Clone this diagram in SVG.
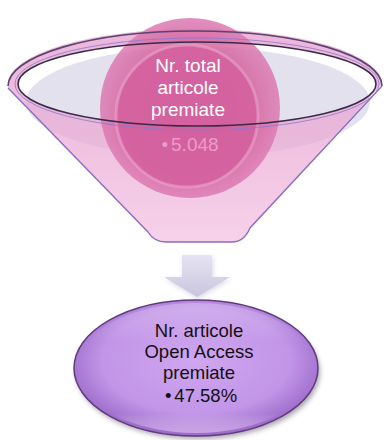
<svg xmlns="http://www.w3.org/2000/svg" width="384" height="440" viewBox="0 0 384 440">
  <style>
    .t { font-family: "Liberation Sans", Arial, sans-serif; text-anchor: middle; }
    .top { font-size: 19px; fill: #ffffff; }
    .topv { font-size: 19px; fill: #ec9ccb; }
    .bot { font-size: 18.5px; fill: #141014; }
  </style>
  <defs>
    <linearGradient id="face" x1="0" y1="0" x2="0" y2="1">
      <stop offset="0" stop-color="#e49acb"/>
      <stop offset="0.5" stop-color="#eaa8d3"/>
      <stop offset="1" stop-color="#f2c0e2"/>
    </linearGradient>
    <radialGradient id="ball" cx="0.5" cy="0.5" r="0.5">
      <stop offset="0" stop-color="#d45c9e"/>
      <stop offset="0.75" stop-color="#d6679f"/>
      <stop offset="1" stop-color="#dc7ab3"/>
    </radialGradient>
    <linearGradient id="arrow" x1="0" y1="0" x2="0" y2="1">
      <stop offset="0" stop-color="#e6e4f2"/>
      <stop offset="1" stop-color="#c9c5de"/>
    </linearGradient>
    <radialGradient id="oval" cx="0.5" cy="0.45" r="0.55">
      <stop offset="0" stop-color="#cfa6f0"/>
      <stop offset="0.7" stop-color="#c295e8"/>
      <stop offset="1" stop-color="#9b6ac8"/>
    </radialGradient>
    <linearGradient id="ovalHi" x1="0" y1="0" x2="0" y2="1">
      <stop offset="0" stop-color="#ffffff" stop-opacity="0.25"/>
      <stop offset="0.3" stop-color="#ffffff" stop-opacity="0"/>
      <stop offset="0.85" stop-color="#ffffff" stop-opacity="0"/>
      <stop offset="1" stop-color="#f4d8ff" stop-opacity="0.5"/>
    </linearGradient>
    <filter id="shadow" x="-20%" y="-20%" width="140%" height="150%">
      <feGaussianBlur stdDeviation="2.5"/>
    </filter>
  </defs>

  <g id="funnel">
    <!-- interior back surface -->
    <ellipse cx="198" cy="102" rx="172" ry="55" fill="#e4e1ee"/>
    <!-- translucent funnel body (front face + back band) -->
    <path d="M8,84 A187,55 0 0 1 382,84 L250,228 Q244,242 232,242 L166,242 Q154,242 148,232 L8,88 Z M18,84 A179,42 0 0 0 376,84 A179,42 0 0 0 18,84 Z"
          fill="url(#face)" fill-opacity="0.72" fill-rule="evenodd" stroke="none"/>
    <!-- main circle -->
    <g id="circle-top">
      <circle cx="190" cy="108" r="90" fill="url(#ball)" opacity="0.85"/>
      <circle cx="187" cy="116" r="71" fill="#d35e9e" fill-opacity="0.8" stroke="#eaa4cd" stroke-width="3" stroke-opacity="0.6"/>
    </g>
    <!-- body outline -->
    <path d="M382,86 L250,228 Q244,242 232,242 L166,242 Q154,242 148,232 L8,88" fill="none" stroke="#8c6cc4" stroke-width="1.4"/>
    <!-- rim -->
    <path d="M8,86 A187,55 0 0 1 382,86" fill="none" stroke="#5a4470" stroke-width="1.6"/>
    <ellipse cx="197" cy="84" rx="182" ry="46" fill="none" stroke="#8a78d0" stroke-width="1" opacity="0.8"/>
    <ellipse cx="197" cy="84" rx="179" ry="42" fill="none" stroke="#3a2c48" stroke-width="1.6"/>
  </g>

  <g id="node-top">
    <text class="t top" x="188" y="72">Nr. total</text>
    <text class="t top" x="188" y="94">articole</text>
    <text class="t top" x="188" y="116">premiate</text>
    <text class="t topv" x="190" y="151">•<tspan dx="3">5.048</tspan></text>
  </g>

  <g id="connectors">
    <path d="M182,255 H212 V277 H230 L197,297 L164,277 H182 Z" fill="#b8b4cc" opacity="0.5" filter="url(#shadow)" transform="translate(1,2)"/>
    <path d="M182,255 H212 V277 H230 L197,297 L164,277 H182 Z" fill="url(#arrow)"/>
  </g>

  <g id="node-bottom">
    <ellipse cx="198" cy="372" rx="122" ry="67" fill="#6a5a70" opacity="0.55" filter="url(#shadow)"/>
    <ellipse cx="196" cy="368" rx="122" ry="68" fill="url(#oval)" stroke="#5e3c7e" stroke-width="1.5"/>
    <ellipse cx="196" cy="368" rx="118" ry="65" fill="url(#ovalHi)"/>
    <text class="t bot" x="199" y="337">Nr. articole</text>
    <text class="t bot" x="199" y="358">Open Access</text>
    <text class="t bot" x="199" y="379">premiate</text>
    <text class="t bot" x="201" y="402">•<tspan dx="3">47.58%</tspan></text>
  </g>
</svg>
